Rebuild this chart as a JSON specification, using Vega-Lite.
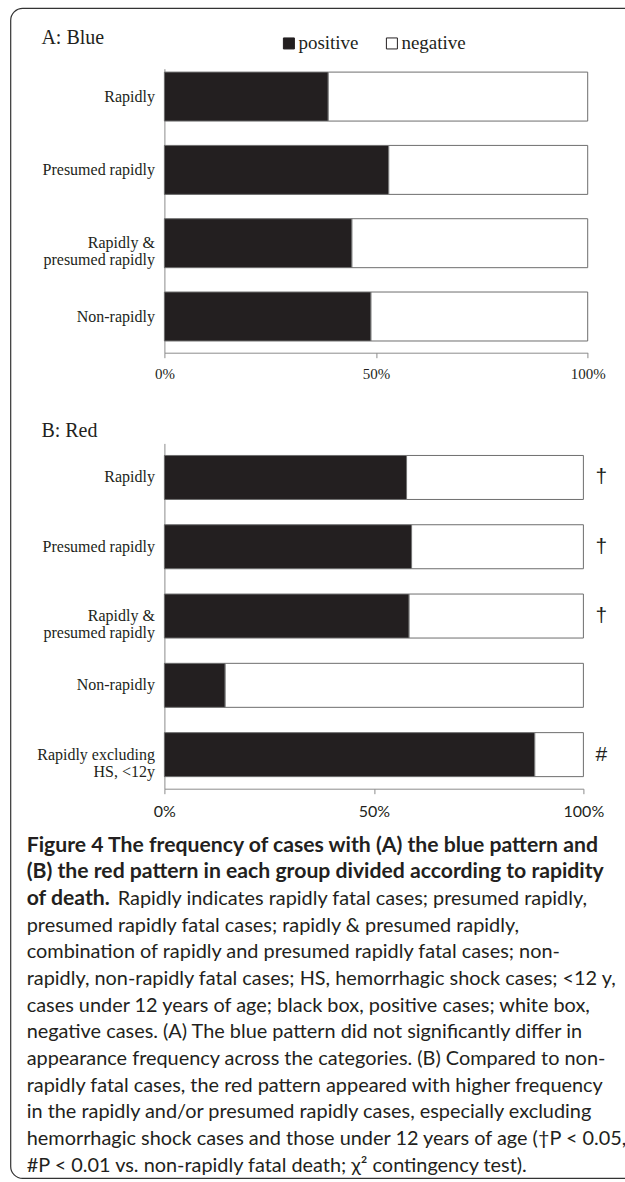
{
  "$schema": "https://vega.github.io/schema/vega-lite/v6.json",
  "padding": {"left": 9.4, "top": 7.7, "right": 0, "bottom": 0},
  "autosize": {"type": "pad"},
  "bounds": "flush",
  "spacing": 90.7,
  "resolve": {"scale": {"fill": "independent"}},
  "config": {"view": {"stroke": null}, "axis": {"grid": false}},
  "datasets": {
    "panelA": [
      {"group": "Rapidly", "status": "positive", "share": 0.387},
      {"group": "Rapidly", "status": "negative", "share": 0.613},
      {"group": "Presumed rapidly", "status": "positive", "share": 0.530},
      {"group": "Presumed rapidly", "status": "negative", "share": 0.470},
      {"group": "Rapidly & presumed rapidly", "status": "positive", "share": 0.443},
      {"group": "Rapidly & presumed rapidly", "status": "negative", "share": 0.557},
      {"group": "Non-rapidly", "status": "positive", "share": 0.488},
      {"group": "Non-rapidly", "status": "negative", "share": 0.512}
    ],
    "panelB": [
      {"group": "Rapidly", "status": "positive", "share": 0.578, "sig": "†"},
      {"group": "Rapidly", "status": "negative", "share": 0.422, "sig": "†"},
      {"group": "Presumed rapidly", "status": "positive", "share": 0.590, "sig": "†"},
      {"group": "Presumed rapidly", "status": "negative", "share": 0.410, "sig": "†"},
      {"group": "Rapidly & presumed rapidly", "status": "positive", "share": 0.584, "sig": "†"},
      {"group": "Rapidly & presumed rapidly", "status": "negative", "share": 0.416, "sig": "†"},
      {"group": "Non-rapidly", "status": "positive", "share": 0.145, "sig": ""},
      {"group": "Non-rapidly", "status": "negative", "share": 0.855, "sig": ""},
      {"group": "Rapidly excluding HS, <12y", "status": "positive", "share": 0.884, "sig": "#"},
      {"group": "Rapidly excluding HS, <12y", "status": "negative", "share": 0.116, "sig": "#"}
    ],
    "caption": [
      {"line": 1, "part": "bold", "text": "Figure 4 The frequency of cases with (A) the blue pattern and"},
      {"line": 2, "part": "bold", "text": "(B) the red pattern in each group divided according to rapidity"},
      {"line": 3, "part": "bold", "text": "of death."},
      {"line": 3, "part": "plain-cont", "text": "Rapidly indicates rapidly fatal cases; presumed rapidly,"},
      {"line": 4, "part": "plain", "text": "presumed rapidly fatal cases; rapidly & presumed rapidly,"},
      {"line": 5, "part": "plain", "text": "combination of rapidly and presumed rapidly fatal cases; non-"},
      {"line": 6, "part": "plain", "text": "rapidly, non-rapidly fatal cases; HS, hemorrhagic shock cases; <12 y,"},
      {"line": 7, "part": "plain", "text": "cases under 12 years of age; black box, positive cases; white box,"},
      {"line": 8, "part": "plain", "text": "negative cases. (A) The blue pattern did not significantly differ in"},
      {"line": 9, "part": "plain", "text": "appearance frequency across the categories. (B) Compared to non-"},
      {"line": 10, "part": "plain", "text": "rapidly fatal cases, the red pattern appeared with higher frequency"},
      {"line": 11, "part": "plain", "text": "in the rapidly and/or presumed rapidly cases, especially excluding"},
      {"line": 12, "part": "plain", "text": "hemorrhagic shock cases and those under 12 years of age (†P < 0.05,"},
      {"line": 13, "part": "plain", "text": "#P < 0.01 vs. non-rapidly fatal death; χ² contingency test)."}
    ],
    "frame": [{"element": "frame"}]
  },
  "vconcat": [
    {
      "width": 423.3,
      "height": 284,
      "title": {"text": "A: Blue", "anchor": "start", "frame": "group", "dx": -123, "dy": 57, "offset": 26.6, "baseline": "alphabetic", "font": "Liberation Serif", "fontSize": 20, "fontWeight": "normal", "color": "#231f20"},
      "data": {"name": "panelA"},
      "mark": {"type": "bar", "stroke": "#6d6d6d", "strokeWidth": 1},
      "encoding": {
        "y": {
          "field": "group", "type": "nominal",
          "sort": ["Rapidly", "Presumed rapidly", "Rapidly & presumed rapidly", "Non-rapidly"],
          "scale": {"paddingInner": 0.332, "paddingOuter": 0.103, "align": 0.225},
          "axis": {
            "title": null, "ticks": false, "tickSize": 0, "domainColor": "#8c8c8c",
            "labelFont": "Liberation Serif", "labelFontSize": 16, "labelColor": "#231f20",
            "labelPadding": 10, "labelLineHeight": 17,
            "labelExpr": "datum.value === 'Rapidly & presumed rapidly' ? ['Rapidly &\u00a0\u00a0\u00a0\u00a0\u00a0\u00a0', 'presumed rapidly'] : datum.value"
          }
        },
        "x": {
          "field": "share", "type": "quantitative", "stack": "zero",
          "scale": {"domain": [0, 1], "nice": false},
          "axis": {"values": [0, 0.5, 1], "format": ".0%", "title": null, "domainColor": "#8c8c8c", "tickColor": "#8c8c8c", "tickSize": 5, "labelFont": "Liberation Serif", "labelFontSize": 15, "labelColor": "#231f20", "labelPadding": 9, "labelFlush": false}
        },
        "order": {"field": "status", "type": "ordinal", "sort": "descending"},
        "fill": {
          "field": "status", "type": "nominal", "sort": ["positive", "negative"],
          "scale": {"domain": ["positive", "negative"], "range": ["#231f20", "#ffffff"]},
          "legend": {"orient": "none", "legendX": 115, "legendY": -35, "direction": "horizontal", "title": null, "symbolType": "square", "symbolSize": 121, "symbolStrokeColor": "#231f20", "symbolStrokeWidth": 1, "labelFont": "Liberation Serif", "labelFontSize": 19, "labelColor": "#231f20", "labelOffset": 0, "columnPadding": 23, "padding": 0}
        }
      }
    },
    {
      "width": 419,
      "height": 345.3,
      "title": {"text": "B: Red", "anchor": "start", "frame": "group", "dx": -123, "dy": 20.7, "offset": 7.3, "baseline": "alphabetic", "font": "Liberation Serif", "fontSize": 20, "fontWeight": "normal", "color": "#231f20"},
      "data": {"name": "panelB"},
      "layer": [
        {
          "mark": {"type": "bar", "stroke": "#6d6d6d", "strokeWidth": 1},
          "encoding": {
            "y": {
              "field": "group", "type": "nominal",
              "sort": ["Rapidly", "Presumed rapidly", "Rapidly & presumed rapidly", "Non-rapidly", "Rapidly excluding HS, <12y"],
              "scale": {"paddingInner": 0.365, "paddingOuter": 0.174},
              "axis": {
                "title": null, "ticks": false, "tickSize": 0, "domainColor": "#8c8c8c",
                "labelFont": "Liberation Serif", "labelFontSize": 16, "labelColor": "#231f20",
                "labelPadding": 10, "labelLineHeight": 17,
                "labelExpr": "datum.value === 'Rapidly & presumed rapidly' ? ['Rapidly &\u00a0\u00a0\u00a0\u00a0\u00a0\u00a0', 'presumed rapidly'] : datum.value === 'Rapidly excluding HS, <12y' ? ['Rapidly excluding', 'HS, <12y\u00a0\u00a0\u00a0\u00a0\u00a0\u00a0\u00a0\u00a0\u00a0'] : datum.value"
              }
            },
            "x": {
              "field": "share", "type": "quantitative", "stack": "zero",
              "scale": {"domain": [0, 1], "nice": false},
              "axis": {"values": [0, 0.5, 1], "format": ".0%", "title": null, "domainColor": "#8c8c8c", "tickColor": "#8c8c8c", "tickSize": 5, "labelFont": "Lato", "labelFontSize": 16, "labelColor": "#231f20", "labelPadding": 10, "labelFlush": false}
            },
            "order": {"field": "status", "type": "ordinal", "sort": "descending"},
            "fill": {
              "field": "status", "type": "nominal", "sort": ["positive", "negative"],
              "scale": {"domain": ["positive", "negative"], "range": ["#231f20", "#ffffff"]},
              "legend": null
            }
          }
        },
        {
          "transform": [{"filter": "datum.status === 'positive' && datum.sig !== ''"}],
          "mark": {"type": "text", "align": "left", "baseline": "middle", "dx": 12, "font": "Liberation Sans", "fontSize": 21, "color": "#231f20"},
          "encoding": {
            "y": {"field": "group", "type": "nominal", "sort": ["Rapidly", "Presumed rapidly", "Rapidly & presumed rapidly", "Non-rapidly", "Rapidly excluding HS, <12y"]},
            "x": {"datum": 1, "type": "quantitative"},
            "text": {"field": "sig"}
          }
        }
      ]
    },
    {
      "width": 423,
      "height": 298.3,
      "layer": [
        {
          "data": {"name": "frame"},
          "mark": {"type": "rect", "fill": "transparent", "stroke": "#333333", "strokeWidth": 1.2, "cornerRadius": 12},
          "encoding": {
            "x": {"datum": -0.363357, "type": "quantitative", "scale": {"domain": [0, 1], "nice": false, "zero": false}, "axis": null},
            "x2": {"datum": 1.126005},
            "y": {"datum": -30.6271, "type": "quantitative", "scale": {"domain": [2.0612, 13.2475], "nice": false, "zero": false, "reverse": true}, "axis": null},
            "y2": {"datum": 13.2475}
          }
        },
        {
          "data": {"name": "caption"},
          "transform": [{"filter": "datum.part === 'bold'"}],
          "mark": {"type": "text", "align": "left", "baseline": "alphabetic", "dx": -137.7, "font": "Lato", "fontWeight": "bold", "fontSize": 21.2, "color": "#231f20"},
          "encoding": {
            "x": {"datum": 0, "type": "quantitative", "axis": null},
            "y": {"field": "line", "type": "quantitative", "axis": null},
            "text": {"field": "text"}
          }
        },
        {
          "data": {"name": "caption"},
          "transform": [{"filter": "datum.part === 'plain'"}],
          "mark": {"type": "text", "align": "left", "baseline": "alphabetic", "dx": -137.7, "font": "Lato", "fontWeight": "normal", "fontSize": 19.9, "color": "#231f20"},
          "encoding": {
            "x": {"datum": 0, "type": "quantitative", "axis": null},
            "y": {"field": "line", "type": "quantitative", "axis": null},
            "text": {"field": "text"}
          }
        },
        {
          "data": {"name": "caption"},
          "transform": [{"filter": "datum.part === 'plain-cont'"}],
          "mark": {"type": "text", "align": "left", "baseline": "alphabetic", "dx": -46.7, "font": "Lato", "fontWeight": "normal", "fontSize": 19.9, "color": "#231f20"},
          "encoding": {
            "x": {"datum": 0, "type": "quantitative", "axis": null},
            "y": {"field": "line", "type": "quantitative", "axis": null},
            "text": {"field": "text"}
          }
        }
      ]
    }
  ]
}
